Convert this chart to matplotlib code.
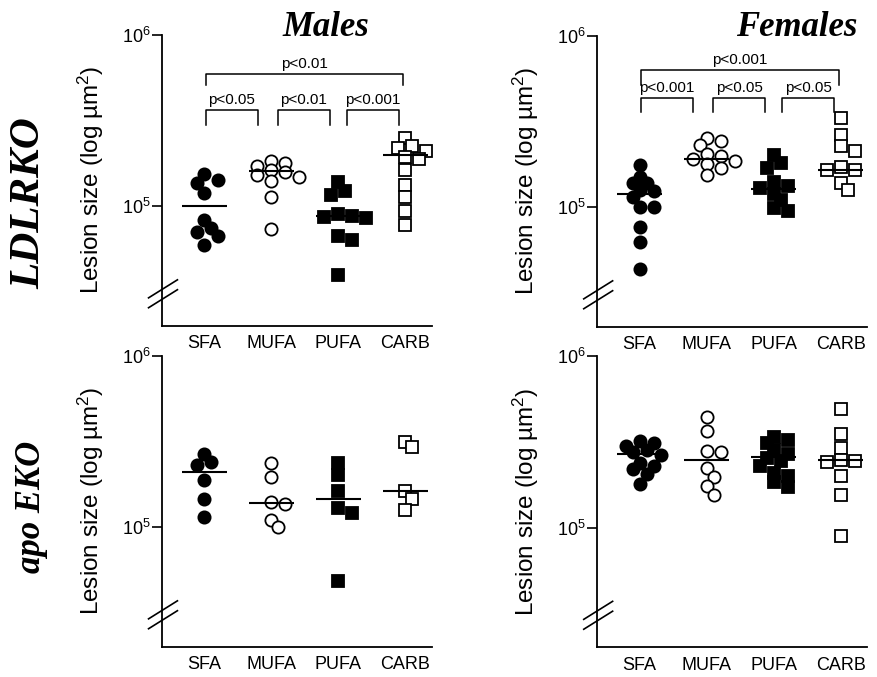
import numpy as np
import matplotlib
matplotlib.use("Agg")
import matplotlib.pyplot as plt

plt.rcParams["font.family"] = ["Liberation Sans", "DejaVu Sans"]
plt.rcParams["mathtext.fontset"] = "custom"
plt.rcParams["mathtext.rm"] = "Liberation Sans"
plt.rcParams["mathtext.it"] = "Liberation Sans"

diets = ["SFA", "MUFA", "PUFA", "CARB"]

# LDLRKO males (lesion size, um^2)
ldl_m_sfa = [1.54e5, 1.43e5, 1.37e5, 1.20e5, 8.3e4, 7.5e4, 7.1e4, 6.7e4, 6.0e4]
ldl_m_mufa = [1.83e5, 1.80e5, 1.72e5, 1.62e5, 1.58e5, 1.52e5, 1.48e5, 1.40e5, 1.13e5, 7.4e4]
ldl_m_pufa = [1.38e5, 1.23e5, 1.17e5, 9.0e4, 8.8e4, 8.6e4, 8.7e4, 6.7e4, 6.4e4, 4.0e4]
ldl_m_carb = [2.50e5, 2.25e5, 2.20e5, 2.10e5, 1.95e5, 1.90e5, 1.62e5, 1.34e5, 1.14e5, 9.4e4, 7.8e4]
ldl_m_means = [1.0e5, 1.6e5, 8.8e4, 2.0e5]

# LDLRKO females
ldl_f_sfa = [1.77e5, 1.51e5, 1.39e5, 1.39e5, 1.27e5, 1.24e5, 1.15e5, 1.01e5, 1.01e5, 7.7e4, 6.3e4, 4.4e4]
ldl_f_mufa = [2.55e5, 2.45e5, 2.30e5, 2.05e5, 1.98e5, 1.92e5, 1.85e5, 1.78e5, 1.70e5, 1.55e5]
ldl_f_pufa = [2.03e5, 1.81e5, 1.69e5, 1.40e5, 1.33e5, 1.30e5, 1.19e5, 1.10e5, 9.9e4, 9.5e4]
ldl_f_carb = [3.31e5, 2.65e5, 2.27e5, 2.12e5, 1.73e5, 1.66e5, 1.64e5, 1.39e5, 1.27e5]
ldl_f_means = [1.20e5, 1.92e5, 1.28e5, 1.64e5]

# apoEKO males
apo_m_sfa = [2.69e5, 2.39e5, 2.30e5, 1.88e5, 1.46e5, 1.15e5]
apo_m_mufa = [2.36e5, 1.97e5, 1.41e5, 1.37e5, 1.11e5, 1.01e5]
apo_m_pufa = [2.36e5, 2.03e5, 1.63e5, 1.30e5, 1.21e5, 4.9e4]
apo_m_carb = [3.15e5, 2.92e5, 1.63e5, 1.47e5, 1.27e5]
apo_m_means = [2.09e5, 1.39e5, 1.46e5, 1.63e5]

# apoEKO females
apo_f_sfa = [3.20e5, 3.10e5, 3.00e5, 2.85e5, 2.75e5, 2.65e5, 2.40e5, 2.30e5, 2.20e5, 2.05e5, 1.80e5]
apo_f_mufa = [4.40e5, 3.67e5, 2.81e5, 2.77e5, 2.23e5, 1.98e5, 1.75e5, 1.56e5]
apo_f_pufa = [3.40e5, 3.25e5, 3.10e5, 2.85e5, 2.70e5, 2.55e5, 2.45e5, 2.30e5, 2.10e5, 2.00e5, 1.85e5, 1.72e5]
apo_f_carb = [4.90e5, 3.50e5, 2.90e5, 2.50e5, 2.45e5, 2.42e5, 2.00e5, 1.56e5, 9.0e4]
apo_f_means = [2.69e5, 2.50e5, 2.57e5, 2.50e5]

ldl_m_pvals = ["p<0.05", "p<0.01", "p<0.001"]
ldl_m_p_all = "p<0.01"
ldl_f_pvals = ["p<0.001", "p<0.05", "p<0.05"]
ldl_f_p_all = "p<0.001"

# marker style per diet: (marker, filled)
styles = [("o", True), ("o", False), ("s", True), ("s", False)]

W, H = 878, 677
fig = plt.figure(figsize=(W / 100, H / 100), dpi=100)


def add_axes(left_px, top_px):
    return fig.add_axes([left_px / W, 1 - (top_px + 291) / H, 270 / W, 291 / H])


def swarm_x(ax, xc, vals, step=7.0, min_d=9.0):
    # simple beeswarm in pixel space so the points sit side by side like Prism
    pts = ax.transData.transform(np.column_stack([np.full(len(vals), xc), vals]))
    placed = []
    xs = np.zeros(len(vals))
    for i in np.argsort(vals)[::-1]:
        px, py = pts[i]
        cands = [px] + [px + s * k * step for k in range(1, 20) for s in (1, -1)]
        for c in cands:
            if all(np.hypot(c - qx, py - qy) >= min_d for qx, qy in placed):
                break
        placed.append((c, py))
        xs[i] = c
    return ax.transData.inverted().transform(np.column_stack([xs, pts[:, 1]]))[:, 0]


def draw_panel(ax, groups, means):
    ax.set_yscale("log")
    ax.set_ylim(2.03e4, 1e6)
    ax.set_xlim(0.358, 4.39)
    for i, (vals, mean) in enumerate(zip(groups, means)):
        x = i + 1
        mk, filled = styles[i]
        xs = swarm_x(ax, x, vals)
        ax.plot(xs, vals, ls="none", marker=mk, ms=8.8 if mk == "o" else 9.0,
                mfc="black" if filled else "white", mec="black", mew=1.3,
                zorder=2, clip_on=False)
        ax.hlines(mean, x - 0.34, x + 0.34, color="black", lw=1.5, zorder=3)

    for s in ["top", "right"]:
        ax.spines[s].set_visible(False)
    for s in ["left", "bottom"]:
        ax.spines[s].set_linewidth(1.3)
    ax.set_yticks([1e5, 1e6])
    ax.set_yticklabels([r"$10^5$", r"$10^6$"])
    ax.yaxis.set_minor_locator(matplotlib.ticker.NullLocator())
    ax.tick_params(axis="y", length=7, width=1.2, pad=1, labelsize=13)
    ax.set_xticks(range(1, 5))
    ax.set_xticklabels(diets)
    ax.tick_params(axis="x", length=0, pad=7, labelsize=13)
    ax.set_ylabel(r"Lesion size (log µm$^2$)", fontsize=17.5)
    ax.yaxis.set_label_coords(-0.207, 0.5)

    # axis break marks
    yb = 0.126
    for dy in (0.0, -0.034):
        ax.plot([-0.048, 0.059], [yb + dy - 0.031, yb + dy + 0.031],
                transform=ax.transAxes, color="black", lw=1.2, clip_on=False)


def draw_brackets(ax, pvals, p_all, y_low, y_side, y_top, y_top_side):
    spans = [(1.02, 1.80), (2.10, 2.87), (3.13, 3.90)]
    for (a, b), p in zip(spans, pvals):
        ax.plot([a, a, b, b], [y_side, y_low, y_low, y_side], color="black", lw=1.1)
        ax.text((a + b) / 2, y_low * 1.04, p, ha="center", va="bottom", fontsize=11)
    a, b = 1.02, 3.97
    ax.plot([a, a, b, b], [y_top_side, y_top, y_top, y_top_side], color="black", lw=1.1)
    ax.text((a + b) / 2, y_top * 1.04, p_all, ha="center", va="bottom", fontsize=11)


ax_tl = add_axes(161.5, 34.5)
draw_panel(ax_tl, [ldl_m_sfa, ldl_m_mufa, ldl_m_pufa, ldl_m_carb], ldl_m_means)
draw_brackets(ax_tl, ldl_m_pvals, ldl_m_p_all, 3.65e5, 2.99e5, 5.92e5, 5.09e5)

ax_tr = add_axes(596.7, 35.5)
draw_panel(ax_tr, [ldl_f_sfa, ldl_f_mufa, ldl_f_pufa, ldl_f_carb], ldl_f_means)
draw_brackets(ax_tr, ldl_f_pvals, ldl_f_p_all, 4.33e5, 3.61e5, 6.27e5, 5.16e5)

ax_bl = add_axes(161.5, 355.5)
draw_panel(ax_bl, [apo_m_sfa, apo_m_mufa, apo_m_pufa, apo_m_carb], apo_m_means)

ax_br = add_axes(596.7, 356.0)
draw_panel(ax_br, [apo_f_sfa, apo_f_mufa, apo_f_pufa, apo_f_carb], apo_f_means)

serif = dict(family=["Liberation Serif", "DejaVu Serif"], weight="bold", style="italic")
fig.text(326 / W, 1 - 27 / H, "Males", ha="center", va="center", fontsize=25, **serif)
fig.text(797 / W, 1 - 27 / H, "Females", ha="center", va="center", fontsize=25, **serif)
fig.text(29 / W, 1 - 203 / H, "LDLRKO", ha="center", va="center", rotation=90,
         fontsize=31, **serif)
fig.text(32 / W, 1 - 507 / H, "apo EKO", ha="center", va="center", rotation=90,
         fontsize=25, **serif)

fig.savefig("out.png", dpi=100)
